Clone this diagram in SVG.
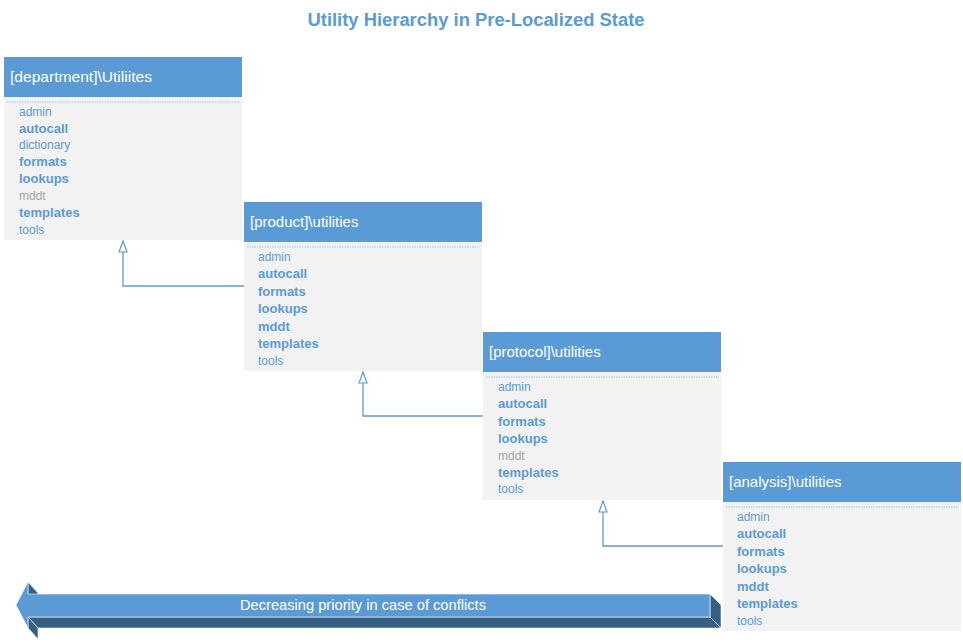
<svg xmlns="http://www.w3.org/2000/svg" width="963" height="642" viewBox="0 0 963 642">
<style>
.hdr{fill:#5B9BD5}
.body{fill:#F2F2F2}
.sep{stroke:#9DC3E6;stroke-width:1;stroke-dasharray:1.5 1}
.htxt{font-family:"Liberation Sans",Arial,sans-serif;font-size:15px;fill:#FFFFFF}
.r{font-family:"Liberation Sans",Arial,sans-serif;font-size:12px;fill:#5B9BD5}
.b{font-family:"Liberation Sans",Arial,sans-serif;font-size:13px;font-weight:bold;fill:#5B9BD5}
.g{fill:#A6A6A6}
.conn{fill:none;stroke:#5B9BD5;stroke-width:1.3}
.dark{fill:#365F85;stroke:#FFFFFF;stroke-width:0.6}
.front{fill:#5B9BD5;stroke:#FFFFFF;stroke-width:0.6}
</style>
<rect width="963" height="642" fill="#FFFFFF"/>
<text x="476" y="26" text-anchor="middle" font-family="'Liberation Sans',Arial,sans-serif" font-size="18px" font-weight="bold" fill="#5B9BD5" textLength="337" lengthAdjust="spacingAndGlyphs">Utility Hierarchy in Pre-Localized State</text>

<g id="connectors">
<path class="conn" d="M244,286 H123 V242"/>
<path d="M123,241 L127,252 L119,252 Z" fill="#FFFFFF" stroke="#5B9BD5" stroke-width="1.2"/>
<path class="conn" d="M483,416 H363 V373"/>
<path d="M363,372 L367,383 L359,383 Z" fill="#FFFFFF" stroke="#5B9BD5" stroke-width="1.2"/>
<path class="conn" d="M723,546 H603 V502"/>
<path d="M603,501 L607,512 L599,512 Z" fill="#FFFFFF" stroke="#5B9BD5" stroke-width="1.2"/>
</g>

<g id="department">
<rect class="body" x="4" y="97" width="238" height="143"/>
<rect class="hdr" x="4" y="57" width="238" height="40"/>
<line class="sep" x1="7" y1="102" x2="240" y2="102"/>
<text class="htxt" x="10" y="82" textLength="142" lengthAdjust="spacingAndGlyphs">[department]\Utiliites</text>
<text class="r" x="19" y="116">admin</text>
<text class="b" x="19" y="133">autocall</text>
<text class="r" x="19" y="149">dictionary</text>
<text class="b" x="19" y="166">formats</text>
<text class="b" x="19" y="183">lookups</text>
<text class="r g" x="19" y="200">mddt</text>
<text class="b" x="19" y="217">templates</text>
<text class="r" x="19" y="234">tools</text>
</g>

<g id="product">
<rect class="body" x="244" y="242" width="238" height="129"/>
<rect class="hdr" x="244" y="202" width="238" height="40"/>
<line class="sep" x1="247" y1="247" x2="480" y2="247"/>
<text class="htxt" x="250" y="227">[product]\utilities</text>
<text class="r" x="258" y="261">admin</text>
<text class="b" x="258" y="278">autocall</text>
<text class="b" x="258" y="296">formats</text>
<text class="b" x="258" y="313">lookups</text>
<text class="b" x="258" y="331">mddt</text>
<text class="b" x="258" y="348">templates</text>
<text class="r" x="258" y="365">tools</text>
</g>

<g id="protocol">
<rect class="body" x="483" y="372" width="238" height="128"/>
<rect class="hdr" x="483" y="332" width="238" height="40"/>
<line class="sep" x1="486" y1="377" x2="719" y2="377"/>
<text class="htxt" x="489" y="357">[protocol]\utilities</text>
<text class="r" x="498" y="391">admin</text>
<text class="b" x="498" y="408">autocall</text>
<text class="b" x="498" y="426">formats</text>
<text class="b" x="498" y="443">lookups</text>
<text class="r g" x="498" y="460">mddt</text>
<text class="b" x="498" y="477">templates</text>
<text class="r" x="498" y="493">tools</text>
</g>

<g id="analysis">
<rect class="body" x="723" y="502" width="238" height="129"/>
<rect class="hdr" x="723" y="462" width="238" height="40"/>
<line class="sep" x1="726" y1="507" x2="959" y2="507"/>
<text class="htxt" x="729" y="487">[analysis]\utilities</text>
<text class="r" x="737" y="521">admin</text>
<text class="b" x="737" y="538">autocall</text>
<text class="b" x="737" y="556">formats</text>
<text class="b" x="737" y="573">lookups</text>
<text class="b" x="737" y="591">mddt</text>
<text class="b" x="737" y="608">templates</text>
<text class="r" x="737" y="625">tools</text>
</g>

<g id="priority-arrow">
<polygon class="dark" points="28,582 38,593 38,605 28,594"/>
<polygon class="dark" points="28,617 710,617 721,628 38,628"/>
<polygon class="dark" points="28,617 38,628 38,639 28,628"/>
<polygon class="dark" points="710,594 721,605 721,628 710,617"/>
<polygon class="front" points="16,605 28,582 28,594 710,594 710,617 28,617 28,628"/>
<text x="363" y="610" text-anchor="middle" font-family="'Liberation Sans',Arial,sans-serif" font-size="14.5px" fill="#FFFFFF" textLength="246" lengthAdjust="spacingAndGlyphs">Decreasing priority in case of conflicts</text>
</g>
</svg>
